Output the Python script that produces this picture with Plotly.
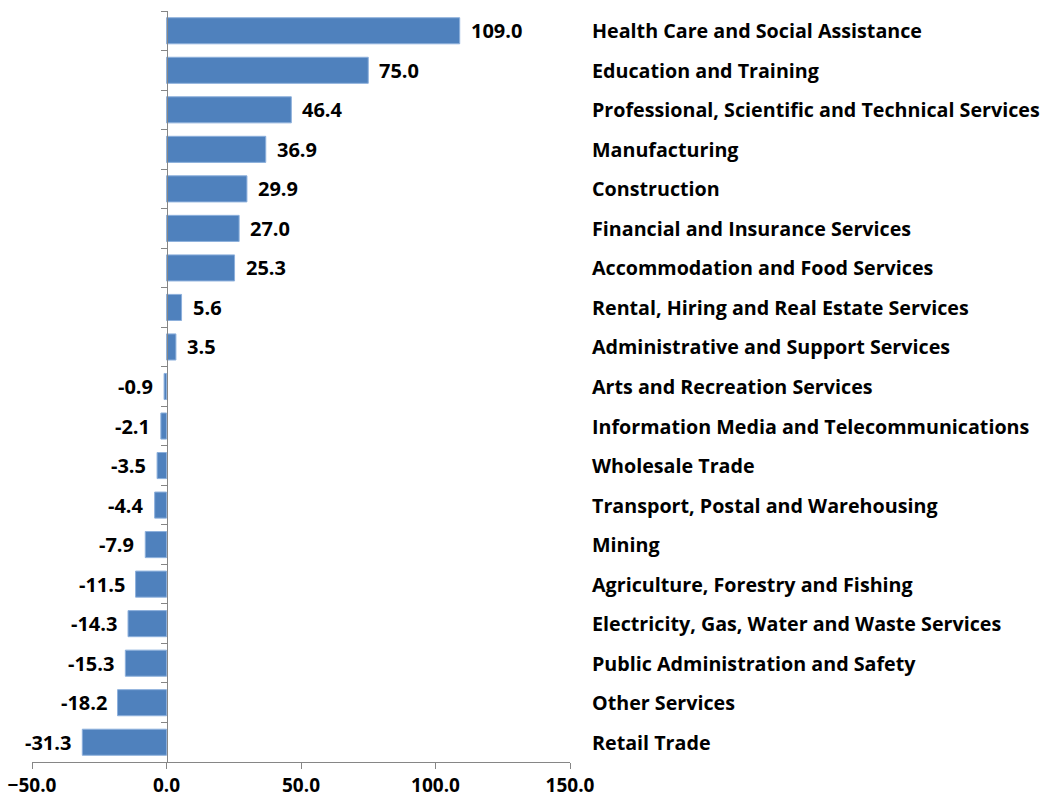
import plotly.graph_objects as go

categories = [
    "Health Care and Social Assistance",
    "Education and Training",
    "Professional, Scientific and Technical Services",
    "Manufacturing",
    "Construction",
    "Financial and Insurance Services",
    "Accommodation and Food Services",
    "Rental, Hiring and Real Estate Services",
    "Administrative and Support Services",
    "Arts and Recreation Services",
    "Information Media and Telecommunications",
    "Wholesale Trade",
    "Transport, Postal and Warehousing",
    "Mining",
    "Agriculture, Forestry and Fishing",
    "Electricity, Gas, Water and Waste Services",
    "Public Administration and Safety",
    "Other Services",
    "Retail Trade",
]
values = [109.0, 75.0, 46.4, 36.9, 29.9, 27.0, 25.3, 5.6, 3.5, -0.9, -2.1, -3.5,
          -4.4, -7.9, -11.5, -14.3, -15.3, -18.2, -31.3]
x_ticks = [-50, 0, 50, 100, 150]

FONT = "Open Sans"
FSIZE = 20

fig = go.Figure()
fig.add_trace(go.Bar(
    x=values, y=categories, orientation="h",
    marker=dict(color="#4F81BD", line=dict(color="#8DB0DC", width=1)),
    hoverinfo="x+y",
))

annotations = []
for c, v in zip(categories, values):
    annotations.append(dict(
        x=v, y=c, xref="x", yref="y", text=f"{v:.1f}", showarrow=False,
        xanchor="left" if v >= 0 else "right", xshift=9 if v >= 0 else -9,
        font=dict(family=FONT, size=FSIZE, color="black", weight="bold"),
    ))
    annotations.append(dict(
        x=1, y=c, xref="paper", yref="y", text=c, showarrow=False,
        xanchor="left", xshift=20,
        font=dict(family=FONT, size=FSIZE - 0.3, color="black", weight="bold"),
    ))

fig.update_layout(
    width=1043, height=798,
    margin=dict(l=32, r=473, t=11, b=36),
    plot_bgcolor="white", paper_bgcolor="white",
    showlegend=False, bargap=0.34,
    annotations=annotations,
    xaxis=dict(
        range=[-50, 150], tickvals=x_ticks, tickformat=".1f", automargin=False,
        showgrid=False, zeroline=False, showline=True, linecolor="#868686",
        linewidth=1, ticks="outside", ticklen=6, tickcolor="#868686",
        tickfont=dict(family=FONT, size=FSIZE - 1, color="black", weight="bold"),
    ),
    yaxis=dict(
        categoryorder="array", categoryarray=categories, autorange="reversed",
        anchor="free", position=0.25, showline=True, linecolor="#868686",
        linewidth=1, ticks="outside", tickson="boundaries", ticklen=6,
        automargin=False,
        tickcolor="#868686", showticklabels=False, showgrid=False,
    ),
)

fig.write_html("out.html")
